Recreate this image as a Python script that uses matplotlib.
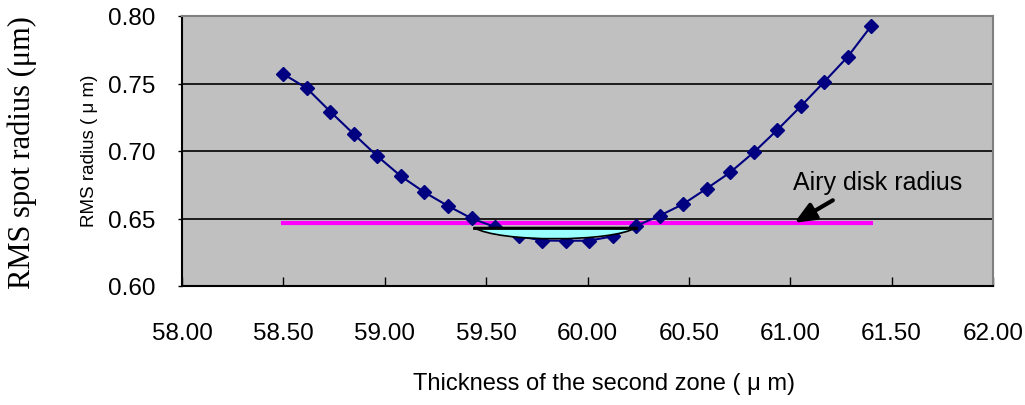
import numpy as np
import matplotlib.pyplot as plt
from matplotlib.path import Path
from matplotlib.patches import PathPatch

# thickness of second zone (um) and rms radius (um)
thickness = [58.500, 58.616, 58.732, 58.848, 58.964, 59.080, 59.196, 59.312,
             59.428, 59.544, 59.660, 59.776, 59.892, 60.008, 60.124, 60.240,
             60.356, 60.472, 60.588, 60.704, 60.820, 60.936, 61.052, 61.168,
             61.284, 61.400]
rms_radius = [0.7570, 0.7464, 0.7291, 0.7124, 0.6961, 0.6813, 0.6694, 0.6593,
              0.6501, 0.6437, 0.6370, 0.6337, 0.6335, 0.6336, 0.6368, 0.6445,
              0.6521, 0.6607, 0.6722, 0.6842, 0.6990, 0.7156, 0.7331, 0.7513,
              0.7699, 0.7928]

airy_radius = 0.647
airy_span = [58.5, 61.4]

# lens shaped highlight below the airy radius
shade_span = [59.44, 60.24]
shade_top = 0.6433
shade_bottom = 0.6350

# label / arrow anchor for the airy annotation
label_pos = (61.015, 0.677)
arrow_tail = (61.21, 0.6635)
arrow_tip = (61.02, 0.6468)

xticks = [58.0, 58.5, 59.0, 59.5, 60.0, 60.5, 61.0, 61.5, 62.0]
yticks = [0.60, 0.65, 0.70, 0.75, 0.80]

sans = ['Liberation Sans', 'DejaVu Sans']

fig = plt.figure(figsize=(10.25, 4.06), dpi=100)
ax = fig.add_axes([182/1025, 1 - 287/406, (993 - 182)/1025, (287 - 17)/406])
ax.set_facecolor('#c0c0c0')

ax.set_xlim(58, 62)
ax.set_ylim(0.60, 0.80)
ax.set_xticks(xticks)
ax.set_yticks(yticks)
ax.set_xticklabels(['%.2f' % v for v in xticks], family=sans, fontsize=17.5)
ax.set_yticklabels(['%.2f' % v for v in yticks], family=sans, fontsize=17.5)
ax.tick_params(axis='x', direction='in', length=6.5, width=1, pad=26, color='black')
ax.tick_params(axis='y', direction='out', length=3, width=1, pad=16, color='black')

for y in yticks[1:-1]:
    ax.axhline(y, color='black', lw=1.2, zorder=1)

ax.spines['left'].set_linewidth(1.5)
ax.spines['bottom'].set_linewidth(1.5)
ax.spines['top'].set_color('#808080')
ax.spines['right'].set_color('#808080')
ax.spines['top'].set_linewidth(1.5)
ax.spines['right'].set_linewidth(1.5)

# airy disk line
ax.plot(airy_span, [airy_radius, airy_radius], color='#ff00ff', lw=3, zorder=2)

# rms series
ax.plot(thickness, rms_radius, color='#000080', lw=1.5, marker='D',
        markersize=7.5, markerfacecolor='#000080', markeredgecolor='#000080', zorder=3)

# lens highlight
x0, x1 = shade_span
dx = x1 - x0
depth = shade_bottom + (shade_bottom - shade_top) / 3.0
verts = [(x0, shade_top), (x0 + dx * 0.15, depth), (x0 + dx * 0.85, depth),
         (x1, shade_top), (x0, shade_top)]
codes = [Path.MOVETO, Path.CURVE4, Path.CURVE4, Path.CURVE4, Path.CLOSEPOLY]
ax.add_patch(PathPatch(Path(verts, codes), facecolor='#99ffff', edgecolor='black',
                       lw=1.2, zorder=4))
ax.plot([x0, x1], [shade_top, shade_top], color='black', lw=2, zorder=5)

# annotation
ax.text(label_pos[0], label_pos[1], 'Airy disk radius', fontsize=18, family=sans,
        va='center', ha='left', zorder=6)
ax.annotate('', xy=arrow_tip, xytext=arrow_tail,
            arrowprops=dict(arrowstyle='-|>,head_length=0.7,head_width=0.3', color='black',
                            lw=3, mutation_scale=18, shrinkA=0, shrinkB=0),
            zorder=6)

fig.text(22/1025, 1 - 153/406, 'RMS spot radius (μm)', rotation=90, ha='center', va='center',
         fontsize=22, family=['Liberation Serif', 'DejaVu Serif'])
fig.text(89/1025, 1 - 151/406, 'RMS radius ( μ m)', rotation=90, ha='center', va='center',
         fontsize=13.5, family=sans)
fig.text(604/1025, 1 - 384/406, 'Thickness of the second zone ( μ m)', ha='center', va='center',
         fontsize=17, family=sans)

fig.savefig('out.png', dpi=100)
